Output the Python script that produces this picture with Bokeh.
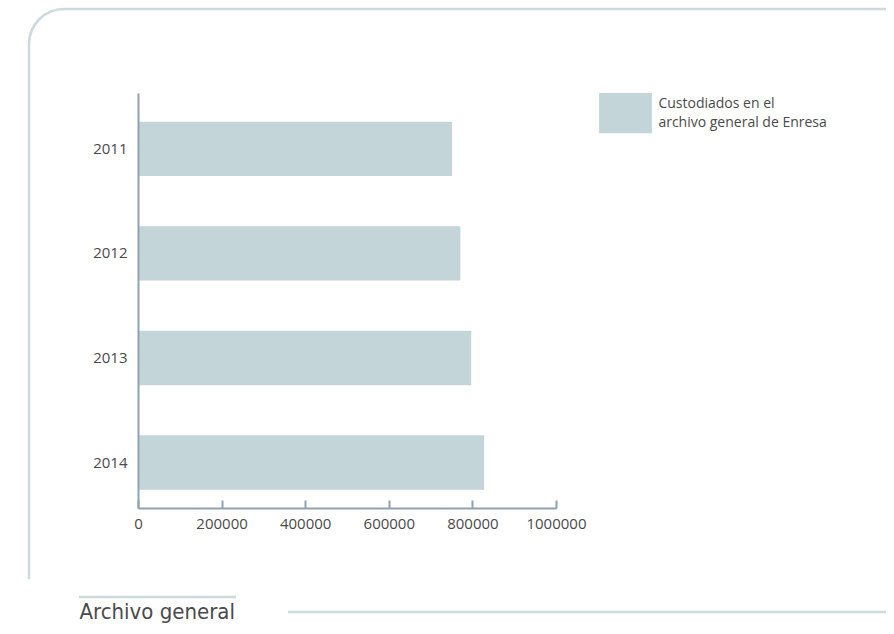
from urllib.parse import quote
from bokeh.plotting import figure
from bokeh.models import (Range1d, FixedTicker, Legend, LegendItem, Title,
                          ColumnDataSource, BasicTickFormatter, LinearAxis)
from bokeh.embed import file_html
from bokeh.resources import INLINE

# ---- data ----
years = ["2011", "2012", "2013", "2014"]
custodiados = [750000, 770000, 796000, 827000]
x_ticks = [0, 200000, 400000, 600000, 800000, 1000000]
x_axis_max = 1000000
series_name = "Custodiados en el\narchivo general de Enresa"
title_text = "Archivo general"

# ---- layout ----
W, H = 886, 626
FL, FT, FB = 138, 93, 508
AX_PX = 418            # pixel length of the 0..1,000,000 axis
FR = W                 # frame runs to the right edge (legend lives inside it)

BAR = "#c3d5d8"
AXIS = "#8fa2b2"
DECO = "#cbdadd"
TXT = "#4a4a4a"
FONT = "Open Sans"

# decorative frame lines drawn as a CSS background behind the transparent canvas
svg = (f'<svg xmlns="http://www.w3.org/2000/svg" width="{W}" height="{H}">'
       f'<path d="M 29 579 L 29 44 A 35 35 0 0 1 64 9 L 885 9 A 9 9 0 0 1 894 18 '
       f'L 894 603 A 9 9 0 0 1 885 612 L 288 612" fill="none" stroke="{DECO}" stroke-width="2.5"/>'
       f'<path d="M 79 597 L 236 597" fill="none" stroke="{DECO}" stroke-width="2.5"/>'
       f'</svg>')
bg = "url(\"data:image/svg+xml;charset=utf-8," + quote(svg) + "\")"

x_end = x_axis_max * (FR - FL) / AX_PX
p = figure(width=W, height=H, output_backend="svg", toolbar_location=None,
           x_range=Range1d(0, x_end), y_range=Range1d(3.44, -0.53),
           min_border_left=FL, min_border_right=0,
           min_border_top=FT, min_border_bottom=H - FB,
           styles={"background-image": bg, "background-repeat": "no-repeat",
                   "background-color": "white"})
p.outline_line_color = None
p.grid.visible = False
p.background_fill_color = None
p.border_fill_color = None

src = ColumnDataSource(dict(y=list(range(len(years))), v=custodiados, year=years))
r = p.hbar(y="y", left=0, right="v", height=0.52, source=src,
           fill_color=BAR, line_color=None)

# x axis
xa = p.xaxis[0]
xa.bounds = (0, x_axis_max)
xa.ticker = FixedTicker(ticks=x_ticks)
xa.formatter = BasicTickFormatter(use_scientific=False)
xa.axis_line_color = AXIS
xa.axis_line_width = 2
xa.major_tick_line_color = AXIS
xa.major_tick_line_width = 2
xa.major_tick_in = 8
xa.major_tick_out = 0
xa.minor_tick_line_color = None
xa.major_label_text_font = FONT
xa.major_label_text_font_size = "15px"
xa.major_label_text_color = TXT
xa.major_label_standoff = 10

# y axis
ya = p.yaxis[0]
ya.ticker = FixedTicker(ticks=list(range(len(years))))
ya.major_label_overrides = {i: y for i, y in enumerate(years)}
ya.axis_line_color = AXIS
ya.axis_line_width = 2
ya.major_tick_line_color = None
ya.major_tick_out = 0
ya.major_tick_in = 0
ya.minor_tick_line_color = None
ya.major_label_text_font = FONT
ya.major_label_text_font_size = "15px"
ya.major_label_text_color = TXT
ya.major_label_standoff = 11

# legend inside the (widened) frame
GW, GH = 66, 52   # glyph box; the swatch is drawn at 80 % of it
box_left, box_top = 592.4, 86.0
legend = Legend(items=[LegendItem(label=series_name, renderers=[r])],
                location=(box_left - FL, FB - (box_top + GH)), padding=0, margin=0,
                border_line_color=None, background_fill_alpha=0,
                glyph_width=GW, glyph_height=GH, label_standoff=0,
                label_text_font=FONT, label_text_font_size="14px",
                label_text_color=TXT, label_text_line_height=1.15)
p.add_layout(legend)

# spacer: an invisible axis (one white tick in an empty area) that pushes the
# section title down towards the bottom of the canvas
spacer_tick = 1500000
spacer = LinearAxis(ticker=FixedTicker(ticks=[spacer_tick]), axis_line_color=None,
                    major_tick_line_color="white", minor_tick_line_color=None,
                    major_tick_in=0, major_tick_out=65, minor_tick_in=0, minor_tick_out=0,
                    major_label_overrides={spacer_tick: ""}, major_label_standoff=0,
                    major_label_text_font_size="1px")
p.add_layout(spacer, "below")

p.add_layout(Title(text=title_text, align="left", offset=79 - FL, vertical_align="bottom",
                   standoff=0, text_font="'DejaVu Sans Condensed', Lato",
                   text_font_size="22px", text_font_style="normal", text_color=TXT), "below")

open("out.html", "w").write(file_html(p, INLINE))
